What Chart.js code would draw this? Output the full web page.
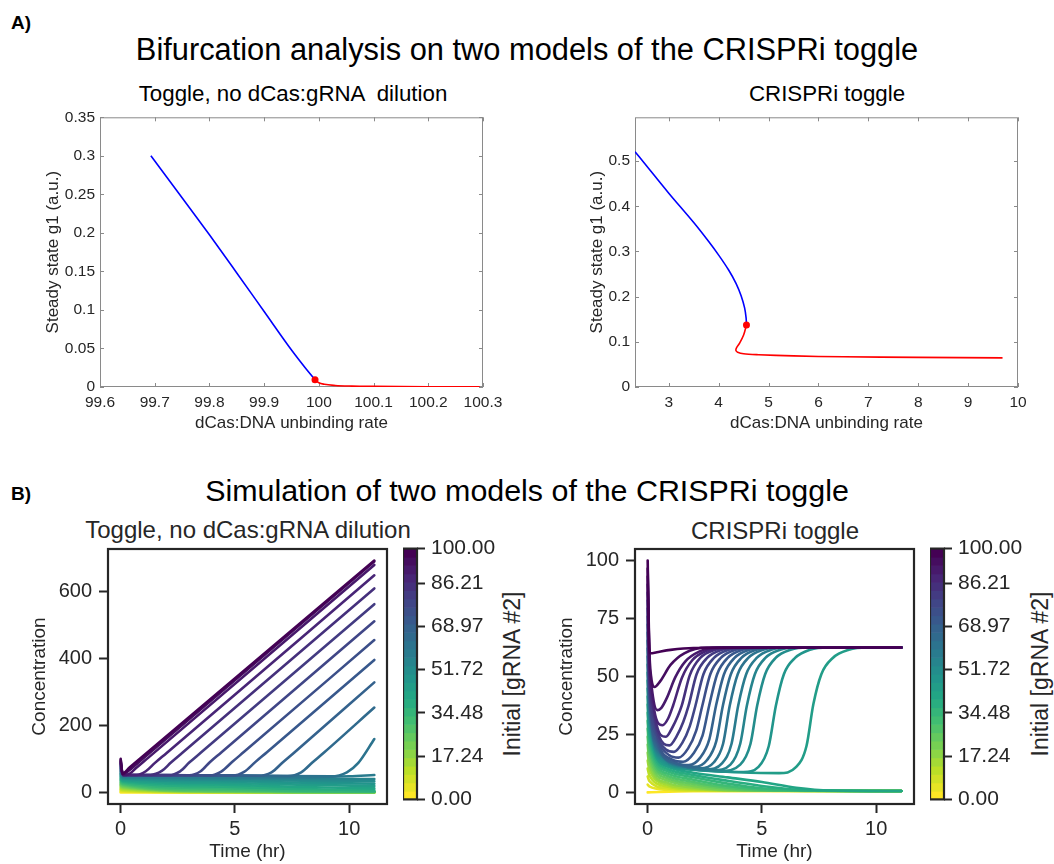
<!DOCTYPE html>
<html>
<head>
<meta charset="utf-8">
<script src="https://cdn.jsdelivr.net/npm/chart.js@4.4.0/dist/chart.umd.min.js"></script>
<style>
  body { margin: 0; background: #fff; }
  #page { position: relative; width: 1054px; height: 864px; overflow: hidden;
          font-family: "Liberation Sans", Arial, sans-serif; color: #000; }
  canvas { position: absolute; }
  .txt { position: absolute; transform: translate(-50%, -50%); white-space: pre; line-height: 1; }
  .rot { transform: translate(-50%, -50%) rotate(-90deg); }
</style>
</head>
<body>
<div id="page">
  <div class="txt" style="left:21px;top:22px;font-size:19px;font-weight:bold">A)</div>
  <div class="txt" style="left:527px;top:50px;font-size:30.8px">Bifurcation analysis on two models of the CRISPRi toggle</div>
  <div class="txt" style="left:293px;top:94px;font-size:22.3px">Toggle, no dCas:gRNA  dilution</div>
  <div class="txt" style="left:827px;top:94px;font-size:22.3px">CRISPRi toggle</div>

  <div class="txt" style="left:21px;top:493px;font-size:19px;font-weight:bold">B)</div>
  <div class="txt" style="left:527px;top:490px;font-size:30.4px">Simulation of two models of the CRISPRi toggle</div>
  <div class="txt" style="left:248px;top:530px;font-size:24px;color:#262626">Toggle, no dCas:gRNA dilution</div>
  <div class="txt" style="left:775px;top:531px;font-size:24px;color:#262626">CRISPRi toggle</div>
  <div class="txt rot" style="left:512px;top:674px;font-size:23px;color:#262626">Initial [gRNA #2]</div>
  <div class="txt rot" style="left:1040px;top:674px;font-size:23px;color:#262626">Initial [gRNA #2]</div>

  <canvas id="tl"></canvas>
  <canvas id="tr"></canvas>
  <canvas id="bl"></canvas>
  <canvas id="br"></canvas>
  <canvas id="cbl"></canvas>
  <canvas id="cbr"></canvas>
</div>
<script>
// ---- bifurcation, toggle without dilution: [rate, steady state g1]
const tlBlue = [[99.693, 0.300], [99.75, 0.2455], [99.8, 0.1975], [99.85, 0.148], [99.9, 0.098],
  [99.95, 0.048], [99.975, 0.025], [99.993, 0.0094]];
const tlRed = [[99.993, 0.0094], [100.0, 0.0055], [100.01, 0.0035], [100.03, 0.002], [100.06, 0.0012],
  [100.1, 0.0008], [100.2, 0.0004], [100.294, 0.0003]];
const tlFold = [[99.993, 0.0094]];
const tlXTicks = [99.6, 99.7, 99.8, 99.9, 100, 100.1, 100.2, 100.3];
const tlYTicks = [0, 0.05, 0.1, 0.15, 0.2, 0.25, 0.3, 0.35];

// ---- bifurcation, CRISPRi toggle
const trBlue = [[2.323, 0.521], [2.5, 0.497], [3, 0.429], [3.5, 0.364], [3.8, 0.322], [4.0, 0.292],
  [4.2, 0.259], [4.35, 0.229], [4.45, 0.202], [4.52, 0.175], [4.55, 0.153], [4.557, 0.137]];
const trRed = [[4.557, 0.137], [4.5, 0.115], [4.42, 0.097], [4.36, 0.087], [4.345, 0.081], [4.38, 0.077],
  [4.5, 0.0735], [4.8, 0.0715], [5.5, 0.0688], [6.5, 0.0668], [8, 0.0655], [9.69, 0.0645]];
const trFold = [[4.557, 0.137]];
const trXTicks = [3, 4, 5, 6, 7, 8, 9, 10];
const trYTicks = [0, 0.1, 0.2, 0.3, 0.4, 0.5];

// ---- simulation, toggle without dilution: one curve per initial gRNA #2 (0 ... 100), [t, conc]
const blCurves = [
  [[0, 0], [4, 0], [11.1, 0]],
  [[0, 3.4], [0.1, 2.8], [4, 0.4], [8, 0.2], [11.1, 0.2]],
  [[0, 6.9], [0.1, 5.5], [4, 0.7], [8, 0.4], [11.1, 0.3]],
  [[0, 10.3], [0.1, 8], [4, 1.1], [8, 0.5], [11.1, 0.4]],
  [[0, 13.8], [0.1, 11], [4, 1.6], [8, 0.6], [11.1, 0.5]],
  [[0, 17.2], [0.1, 14], [4, 2.2], [8, 0.8], [11.1, 0.6]],
  [[0, 20.7], [0.1, 17], [4, 3], [8, 1], [11.1, 0.8]],
  [[0, 24.1], [0.1, 20], [4, 4], [8, 1.4], [11.1, 1]],
  [[0, 27.6], [0.1, 23], [4, 6], [8, 2], [11.1, 1.3]],
  [[0, 31], [0.1, 26], [4, 9], [8, 3], [11.1, 1.8]],
  [[0, 34.5], [0.1, 29], [4, 13], [8, 5], [11.1, 2.5]],
  [[0, 37.9], [0.1, 32], [4, 18], [8, 10], [11.1, 6]],
  [[0, 41.4], [0.1, 35], [4, 24], [8, 16], [11.1, 12]],
  [[0, 44.8], [0.1, 38], [4, 29], [8, 23], [11.1, 19]],
  [[0, 48.3], [0.1, 41], [4, 34], [8, 29], [11.1, 26]],
  [[0, 51.7], [0.1, 43], [4, 38], [8, 35], [11.1, 33]],
  [[0, 55.2], [0.1, 45], [4, 42], [8, 40], [11.1, 40]],
  [[0, 58.6], [0.1, 47], [3, 45], [6, 44], [8.5, 45], [10, 48], [11.1, 52]],
  [[0, 62.1], [0.1, 52], [5, 50], [9.2, 48], [9.9, 60], [10.4, 88], [11.1, 159]],
  [[0, 65.5], [0.1, 52], [4, 50.5], [7.3, 49], [7.9, 60], [8.4, 90], [8.9, 119], [11.1, 253]],
  [[0, 69], [0.1, 52], [3, 51], [6.0, 49.5], [6.6, 60], [7.1, 90], [7.6, 119], [11.1, 328]],
  [[0, 72.4], [0.1, 52], [2.5, 51], [4.9, 50], [5.4, 61], [5.9, 91], [6.4, 120], [11.1, 395]],
  [[0, 75.9], [0.1, 52], [2, 51.5], [3.9, 50.5], [4.4, 62], [4.9, 92], [5.4, 121], [11.1, 454]],
  [[0, 79.3], [0.1, 52], [3.0, 51], [3.5, 63], [3.9, 90], [4.4, 119], [11.1, 510]],
  [[0, 82.8], [0.1, 52], [2.1, 51.5], [2.6, 63], [3.0, 89], [3.5, 118], [11.1, 561]],
  [[0, 86.2], [0.1, 52], [1.3, 52], [1.8, 64], [2.2, 89], [2.7, 118], [11.1, 608]],
  [[0, 89.7], [0.1, 52], [0.7, 52], [1.1, 63], [1.5, 88], [2.0, 117], [11.1, 647]],
  [[0, 93.1], [0.1, 52], [0.3, 53], [0.7, 74], [1.2, 103], [11.1, 678]],
  [[0, 96.6], [0.08, 54], [0.3, 62], [0.8, 91], [11.1, 688]],
  [[0, 100], [0.07, 56], [0.4, 75], [11.1, 691]]
];

// ---- simulation, CRISPRi toggle
const brCurves = [
  [[0, 0], [0.5, 0.2], [2, 0.5], [11.1, 0.6]],
  [[0, 3.4], [0.07, 2.6], [0.9, 1.1], [2, 0.7], [11.1, 0.6]],
  [[0, 6.9], [0.07, 5], [0.9, 1.7], [2, 0.9], [11.1, 0.6]],
  [[0, 10.3], [0.07, 7.5], [0.9, 2.4], [2, 1.2], [11.1, 0.6]],
  [[0, 13.8], [0.07, 10], [0.9, 3.2], [2, 1.6], [3.5, 0.8], [11.1, 0.6]],
  [[0, 17.2], [0.07, 12], [0.9, 4], [2, 2.1], [3.5, 0.9], [11.1, 0.6]],
  [[0, 20.7], [0.07, 14], [0.9, 5], [2, 2.8], [3.5, 1.1], [11.1, 0.6]],
  [[0, 24.1], [0.07, 16], [0.9, 6], [2, 3.6], [3.5, 1.5], [5, 0.8], [11.1, 0.6]],
  [[0, 27.6], [0.07, 18], [0.9, 7], [2, 4.5], [3.5, 2], [5, 0.9], [11.1, 0.6]],
  [[0, 31], [0.07, 20], [0.9, 8], [2, 5.5], [3.5, 2.8], [5, 1.2], [7, 0.7], [11.1, 0.6]],
  [[0, 34.5], [0.07, 22], [0.9, 9], [2, 6.5], [3.5, 3.8], [5, 1.8], [7, 0.8], [11.1, 0.6]],
  [[0, 37.9], [0.07, 24], [0.9, 10], [2, 7.5], [3.5, 5], [5, 2.8], [6.5, 1.2], [8, 0.7], [11.1, 0.6]],
  [[0, 41.4], [0.07, 26], [0.9, 11], [2, 8.5], [3.5, 6.5], [5, 4.5], [6.5, 2], [8, 0.8], [11.1, 0.6]],
  [[0, 44.8], [0.07, 28], [0.85, 11.5], [2, 9.8], [4, 8.7], [5.75, 8.3], [6.5, 11], [6.95, 20], [7.25, 38], [7.6, 51], [8.1, 58], [8.8, 61.5], [9.6, 62.5], [11.1, 62.5]],
  [[0, 48.3], [0.07, 30], [0.8, 12.5], [2, 9.9], [3.5, 8.9], [4.2, 8.8], [4.85, 11], [5.3, 20], [5.61, 37.4], [5.96, 51], [6.45, 58], [7.1, 61.5], [7.9, 62.5], [11.1, 62.5]],
  [[0, 51.7], [0.07, 32], [0.75, 13.5], [2, 10.2], [3.2, 9.2], [4.05, 12], [4.5, 21], [4.79, 37.4], [5.14, 51], [5.6, 58], [6.25, 61.5], [7.0, 62.5], [11.1, 62.5]],
  [[0, 55.2], [0.07, 34], [0.7, 14.5], [2, 10.5], [2.9, 9.6], [3.62, 12], [4.05, 21], [4.34, 37.4], [4.69, 51], [5.15, 58], [5.8, 61.5], [6.55, 62.5], [11.1, 62.5]],
  [[0, 58.6], [0.07, 36], [0.65, 15.5], [1.8, 10.8], [2.6, 10], [3.25, 12.5], [3.67, 21], [3.96, 37.4], [4.31, 51], [4.77, 58], [5.4, 61.5], [6.15, 62.5], [11.1, 62.5]],
  [[0, 62.1], [0.07, 38], [0.6, 16.5], [1.6, 11.3], [2.3, 10.4], [2.9, 13], [3.3, 21], [3.59, 37.4], [3.94, 51], [4.4, 58], [5.05, 61.5], [5.8, 62.5], [11.1, 62.5]],
  [[0, 65.5], [0.07, 40], [0.55, 17.5], [1.5, 11.8], [2.05, 11], [2.6, 14], [3.0, 22], [3.29, 37.4], [3.64, 51], [4.1, 58], [4.75, 61.5], [5.5, 62.5], [11.1, 62.5]],
  [[0, 69], [0.07, 42], [0.5, 19], [1.3, 12.5], [1.8, 11.8], [2.3, 15], [2.7, 23], [2.99, 37.4], [3.34, 51], [3.8, 58], [4.45, 61.5], [5.2, 62.5], [11.1, 62.5]],
  [[0, 72.4], [0.07, 44], [0.45, 21], [1.1, 14], [1.55, 13.2], [2.02, 17], [2.4, 24.5], [2.69, 37.4], [3.04, 51], [3.5, 58], [4.15, 61.5], [4.9, 62.5], [11.1, 62.5]],
  [[0, 75.9], [0.07, 46], [0.4, 24], [0.95, 16], [1.35, 15], [1.77, 19], [2.12, 26.5], [2.39, 37.4], [2.74, 51], [3.2, 58], [3.85, 61.5], [4.6, 62.5], [11.1, 62.5]],
  [[0, 79.3], [0.07, 48], [0.35, 27], [0.8, 18.5], [1.15, 17.5], [1.52, 21.5], [1.84, 28.5], [2.09, 37.4], [2.44, 51], [2.9, 58], [3.55, 61.5], [4.3, 62.5], [11.1, 62.5]],
  [[0, 82.8], [0.07, 50], [0.3, 31], [0.7, 21], [0.95, 20.3], [1.28, 24.5], [1.56, 30.5], [1.79, 37.4], [2.14, 51], [2.6, 58], [3.25, 61.5], [4.0, 62.5], [11.1, 62.5]],
  [[0, 86.2], [0.07, 52], [0.25, 36], [0.55, 25], [0.8, 24], [1.08, 28], [1.3, 32.5], [1.49, 37.4], [1.84, 50.5], [2.3, 58], [2.95, 61.5], [3.7, 62.5], [11.1, 62.5]],
  [[0, 89.7], [0.07, 55], [0.2, 41], [0.45, 30], [0.65, 29], [0.9, 32], [1.11, 37.4], [1.5, 49.5], [1.95, 57], [2.55, 61], [3.3, 62.5], [11.1, 62.5]],
  [[0, 93.1], [0.07, 58], [0.18, 45], [0.42, 35.5], [0.6, 36.5], [0.85, 41], [1.2, 49.5], [1.65, 56.5], [2.25, 60.7], [3.0, 62.5], [11.1, 62.5]],
  [[0, 96.6], [0.07, 62], [0.15, 50], [0.3, 45.5], [0.55, 48], [1.0, 55], [1.6, 60], [2.6, 62.5], [11.1, 62.5]],
  [[0, 100], [0.06, 65], [0.12, 60], [0.4, 60.5], [1, 61.5], [2, 62.3], [11.1, 62.5]]
];

const timeTicks = [0, 5, 10];
const blYTicks = [0, 200, 400, 600];
const brYTicks = [0, 25, 50, 75, 100];
const cbarTicks = [0, 17.24, 34.48, 51.72, 68.97, 86.21, 100];

// viridis colour map
const VIRIDIS = ['#440154', '#482475', '#414487', '#355f8d', '#2a788e', '#21918c',
  '#22a884', '#44bf70', '#7ad151', '#bddf26', '#fde725'];
function viridis(t) {
  t = Math.min(1, Math.max(0, t));
  const f = t * (VIRIDIS.length - 1);
  const i = Math.min(VIRIDIS.length - 2, Math.floor(f));
  const u = f - i;
  const a = VIRIDIS[i], b = VIRIDIS[i + 1];
  const ch = (s, k) => parseInt(s.substr(1 + 2 * k, 2), 16);
  const c = [0, 1, 2].map(k => Math.round(ch(a, k) + (ch(b, k) - ch(a, k)) * u));
  return 'rgb(' + c.join(',') + ')';
}

Chart.defaults.font.family = "'Liberation Sans', Arial, sans-serif";
Chart.defaults.color = '#262626';

function place(id, area, pad) {
  const c = document.getElementById(id);
  const w = area.r - area.l + pad.l + pad.r;
  const h = area.b - area.t + pad.t + pad.b;
  c.width = w; c.height = h;
  c.style.left = (area.l - pad.l) + 'px';
  c.style.top = (area.t - pad.t) + 'px';
  c.style.width = w + 'px';
  c.style.height = h + 'px';
  return c;
}

const pts = arr => arr.map(p => ({ x: p[0], y: p[1] }));
const fixTicks = list => scale => { scale.ticks = list.map(v => ({ value: v })); };
const trim = v => String(Number(v.toFixed(3)));

// MATLAB style box with inward ticks on all sides
const matlabBox = {
  id: 'matlabBox',
  beforeDatasetsDraw(chart) {
    const { ctx, chartArea: a, scales: { x, y } } = chart;
    ctx.save();
    ctx.strokeStyle = '#8a8a8a';
    ctx.lineWidth = 1;
    ctx.strokeRect(a.left + 0.5, a.top + 0.5, a.right - a.left - 1, a.bottom - a.top - 1);
    const len = 4;
    ctx.beginPath();
    x.ticks.forEach(t => {
      const p = Math.round(x.getPixelForValue(t.value)) + 0.5;
      ctx.moveTo(p, a.bottom); ctx.lineTo(p, a.bottom - len);
      ctx.moveTo(p, a.top); ctx.lineTo(p, a.top + len);
    });
    y.ticks.forEach(t => {
      const p = Math.round(y.getPixelForValue(t.value)) + 0.5;
      ctx.moveTo(a.left, p); ctx.lineTo(a.left + len, p);
      ctx.moveTo(a.right, p); ctx.lineTo(a.right - len, p);
    });
    ctx.stroke();
    ctx.restore();
  }
};

// seaborn "ticks" style frame
const frameBox = {
  id: 'frameBox',
  afterDatasetsDraw(chart) {
    const { ctx, chartArea: a } = chart;
    ctx.save();
    ctx.strokeStyle = '#262626';
    ctx.lineWidth = 2.2;
    ctx.strokeRect(a.left, a.top, a.right - a.left, a.bottom - a.top);
    ctx.restore();
  }
};

function bifurcation(id, area, pad, blue, red, fold, xr, yr, xt, yt, smooth) {
  const line = (data, color) => Object.assign({
    data: pts(data), showLine: true, borderColor: color, borderWidth: 1.6,
    pointRadius: 0, fill: false
  }, smooth);
  new Chart(place(id, area, pad), {
    type: 'scatter',
    data: {
      datasets: [
        { data: pts(fold), pointRadius: 3.5, pointBackgroundColor: '#ff0000', pointBorderWidth: 0, showLine: false },
        line(red, '#ff0000'),
        line(blue, '#0000ff')
      ]
    },
    options: {
      responsive: false, animation: false,
      layout: { padding: { top: pad.t, right: pad.r, left: 0, bottom: 0 } },
      plugins: { legend: { display: false }, tooltip: { enabled: false } },
      scales: {
        x: {
          min: xr[0], max: xr[1], afterBuildTicks: fixTicks(xt),
          afterFit: s => { s.height = pad.b; },
          grid: { display: false, drawTicks: false }, border: { display: false },
          ticks: { padding: 6, font: { size: 15.5 }, maxRotation: 0, callback: v => trim(v) },
          title: { display: true, text: 'dCas:DNA unbinding rate', font: { size: 17 }, padding: 0 }
        },
        y: {
          min: yr[0], max: yr[1], afterBuildTicks: fixTicks(yt),
          afterFit: s => { s.width = pad.l; },
          grid: { display: false, drawTicks: false }, border: { display: false },
          ticks: { padding: 5, font: { size: 15.5 }, callback: v => trim(v) },
          title: { display: true, text: 'Steady state g1 (a.u.)', font: { size: 17 }, padding: 0 }
        }
      }
    },
    plugins: [matlabBox]
  });
}

function simulation(id, area, pad, curves, yr, yt) {
  const n = curves.length - 1;
  // highest initial value first so it is drawn on top
  const datasets = curves.map((c, k) => ({
    data: pts(c), showLine: true, borderColor: viridis(1 - k / n), borderWidth: 2.6,
    pointRadius: 0, cubicInterpolationMode: 'monotone', borderCapStyle: 'round',
    borderJoinStyle: 'round', fill: false
  })).reverse();
  const axis = { size: 20 };
  new Chart(place(id, area, pad), {
    type: 'scatter',
    data: { datasets },
    options: {
      responsive: false, animation: false,
      layout: { padding: { top: pad.t, right: pad.r, left: 0, bottom: 0 } },
      plugins: { legend: { display: false }, tooltip: { enabled: false } },
      scales: {
        x: {
          min: -0.555, max: 11.655, afterBuildTicks: fixTicks(timeTicks),
          afterFit: s => { s.height = pad.b; },
          grid: { drawOnChartArea: false, tickLength: 9, tickWidth: 2, tickColor: '#262626' },
          border: { display: false },
          ticks: { padding: 4, font: axis, maxRotation: 0, callback: v => trim(v) },
          title: { display: true, text: 'Time (hr)', font: { size: 19 }, padding: 0 }
        },
        y: {
          min: yr[0], max: yr[1], afterBuildTicks: fixTicks(yt),
          afterFit: s => { s.width = pad.l; },
          grid: { drawOnChartArea: false, tickLength: 9, tickWidth: 2, tickColor: '#262626' },
          border: { display: false },
          ticks: { padding: 7, font: axis, callback: v => trim(v) },
          title: { display: true, text: 'Concentration', font: { size: 19 }, padding: 0 }
        }
      }
    },
    plugins: [frameBox]
  });
}

// discrete colour bar, 30 levels
const cbarFill = {
  id: 'cbarFill',
  beforeDatasetsDraw(chart) {
    const { ctx, chartArea: a, scales: { y } } = chart;
    const levels = 30;
    ctx.save();
    for (let j = 0; j < levels; j++) {
      const y0 = y.getPixelForValue(j * 100 / levels);
      const y1 = y.getPixelForValue((j + 1) * 100 / levels);
      ctx.fillStyle = viridis(1 - j / (levels - 1));
      ctx.fillRect(a.left, y1, a.right - a.left, y0 - y1 + 0.6);
    }
    ctx.strokeStyle = '#262626';
    ctx.lineWidth = 2.2;
    ctx.strokeRect(a.left, a.top, a.right - a.left, a.bottom - a.top);
    ctx.restore();
  }
};

function colorbar(id, area) {
  const pad = { l: 0, r: 90, t: 14, b: 14 };
  new Chart(place(id, area, pad), {
    type: 'scatter',
    data: { datasets: [{ data: [], showLine: false }] },
    options: {
      responsive: false, animation: false,
      layout: { padding: { top: pad.t, right: 0, left: 0, bottom: pad.b } },
      plugins: { legend: { display: false }, tooltip: { enabled: false } },
      scales: {
        x: { display: false, min: 0, max: 1 },
        y: {
          position: 'right', min: 0, max: 100, afterBuildTicks: fixTicks(cbarTicks),
          afterFit: s => { s.width = pad.r; },
          grid: { drawOnChartArea: false, tickLength: 8, tickWidth: 2, tickColor: '#262626' },
          border: { display: false },
          ticks: { padding: 6, font: { size: 21 }, callback: v => v.toFixed(2) }
        }
      }
    },
    plugins: [cbarFill]
  });
}

bifurcation('tl', { l: 100, t: 115, r: 483, b: 387 }, { l: 57, t: 12, r: 28, b: 47 },
  tlBlue, tlRed, tlFold, [99.6, 100.3], [0, 0.35], tlXTicks, tlYTicks, { cubicInterpolationMode: 'monotone' });
bifurcation('tr', { l: 635, t: 115, r: 1018, b: 387 }, { l: 48, t: 12, r: 20, b: 47 },
  trBlue, trRed, trFold, [2.323, 10], [0, 0.597], trXTicks, trYTicks, { tension: 0.3 });

simulation('bl', { l: 108, t: 544, r: 387, b: 804 }, { l: 80, t: 14, r: 8, b: 59 }, blCurves, [-34.5, 725.5], blYTicks);
simulation('br', { l: 635, t: 544, r: 914, b: 804 }, { l: 80, t: 14, r: 8, b: 59 }, brCurves, [-5, 105], brYTicks);

colorbar('cbl', { l: 403, t: 544, r: 417, b: 804 });
colorbar('cbr', { l: 930, t: 544, r: 944, b: 804 });
</script>
</body>
</html>
